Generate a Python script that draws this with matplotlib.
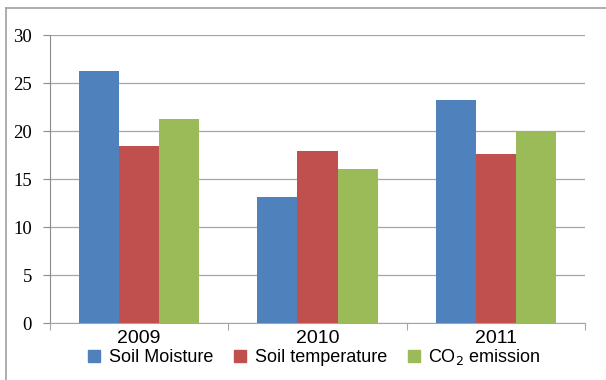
import numpy as np
import matplotlib.pyplot as plt
from matplotlib.lines import Line2D

years = ["2009", "2010", "2011"]
soil_moisture = [26.3, 13.1, 23.2]
soil_temperature = [18.4, 17.9, 17.6]
co2_emission = [21.3, 16.0, 20.0]

series = [
    ("Soil Moisture", soil_moisture, "#4f81bd"),
    ("Soil temperature", soil_temperature, "#c0504d"),
    (r"CO$_2$ emission", co2_emission, "#9bbb59"),
]

fig = plt.figure(figsize=(6.06, 3.80), dpi=100)
ax = fig.add_axes([50 / 606, 1 - 323 / 380, 535 / 606, 288 / 380])

x = np.arange(len(years))
w = 0.225
for i, (name, vals, col) in enumerate(series):
    ax.bar(x + (i - 1) * w, vals, width=w, color=col, label=name, zorder=3)

ax.set_xlim(-0.5, 2.5)
ax.set_ylim(0, 30)
ax.set_yticks(range(0, 31, 5))
ax.yaxis.grid(True, color="#a6a6a6", linewidth=0.9, zorder=0)

for s in ["top", "right"]:
    ax.spines[s].set_visible(False)
ax.spines["left"].set_color("#8c8c8c")
ax.spines["bottom"].set_color("#a6a6a6")

ax.tick_params(axis="y", length=5, color="#8c8c8c", pad=8, labelsize=13.5)
for lab in ax.get_yticklabels():
    lab.set_family("Liberation Serif")

# category ticks sit on the group boundaries, labels at the centers
ax.set_xticks([-0.5, 0.5, 1.5, 2.5])
ax.set_xticklabels([])
ax.tick_params(axis="x", length=5, color="#a6a6a6")
ax.set_xticks(x, minor=True)
ax.set_xticklabels(years, minor=True, family="Liberation Sans", fontsize=14)
ax.tick_params(axis="x", which="minor", length=0, pad=5)

handles = [Line2D([], [], marker="s", linestyle="none", markersize=8.5,
                  color=col, label=name) for name, _, col in series]
fig.legend(handles=handles, loc="center", bbox_to_anchor=(313 / 606, 1 - 357 / 380),
           ncol=3, frameon=False, prop={"family": "Liberation Sans", "size": 13},
           handletextpad=0.3, columnspacing=1.0, handlelength=1.0)

# outer frame
fig.add_artist(Line2D([6 / 606, 6 / 606], [0, 1 - 8 / 380], color="#a0a0a0", lw=1.2,
                      transform=fig.transFigure))
fig.add_artist(Line2D([6 / 606, 1], [1 - 8 / 380, 1 - 8 / 380], color="#a0a0a0", lw=1.2,
                      transform=fig.transFigure))

fig.savefig("out.png", dpi=100)
